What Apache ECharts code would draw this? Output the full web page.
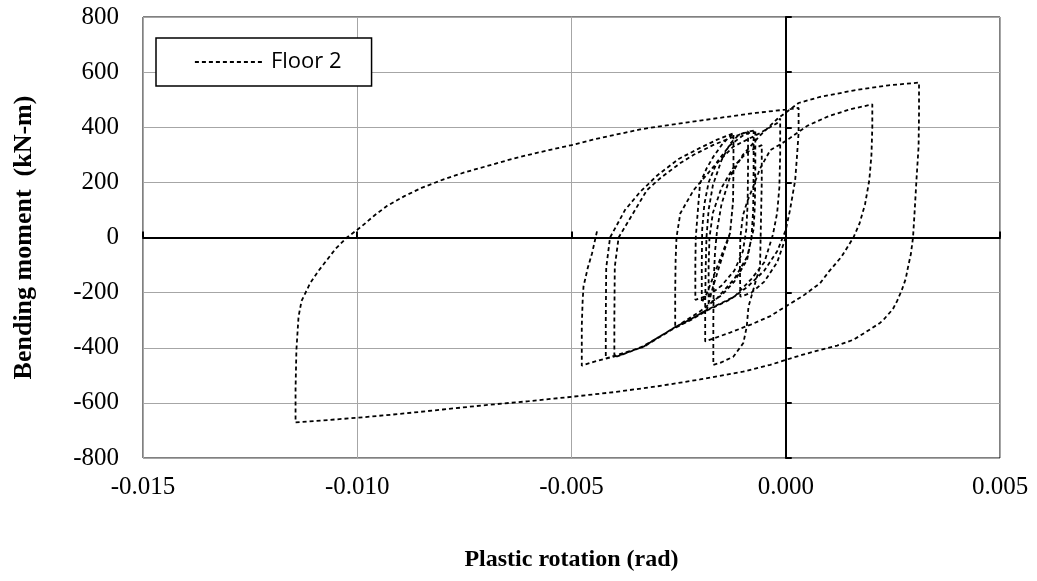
<!DOCTYPE html>
<html>
<head>
<meta charset="utf-8">
<script src="https://cdn.jsdelivr.net/npm/echarts@6/dist/echarts.min.js"></script>
<style>
html,body{margin:0;padding:0;background:#fff;}
#chart{width:1037px;height:581px;}
</style>
</head>
<body>
<div id="chart"></div>
<script>
// ---- data (plastic rotation [rad], bending moment [kN-m]) ----
var seriesName = 'Floor 2';
var xTicks = [-0.015, -0.010, -0.005, 0.000, 0.005];
var yTicks = [-800, -600, -400, -200, 0, 200, 400, 600, 800];

var branch01 = [[0,0],[-0.0002,-90],[-0.0005,-160],[-0.0008,-200],[-0.00106,-215]];
var branch02 = [[-0.00106,-215],[-0.00107,-100],[-0.00106,0],[-0.001,80],[-0.0009,130],[-0.00079,172],[-0.0006,250],[-0.00036,317],[0,350],[0.0005,405],[0.001,440],[0.0015,465],[0.00202,483]];
var branch03 = [[0.00202,483],[0.00202,400],[0.002,300],[0.00195,208],[0.00185,120],[0.00172,50],[0.00158,0],[0.0013,-70],[0.001,-125],[0.0008,-166],[0.0004,-212],[0,-250],[-0.00036,-285],[-0.0008,-315],[-0.0013,-345],[-0.00188,-377]];
var branch04 = [[-0.00188,-377],[-0.00188,-250],[-0.00187,-120],[-0.00185,0],[-0.0018,100],[-0.0017,190],[-0.0015,280],[-0.0013,340],[-0.0011,372],[-0.00088,385]];
var branch05 = [[-0.00088,385],[-0.00088,250],[-0.00089,120],[-0.00092,30],[-0.001,-50],[-0.0012,-120],[-0.0015,-175],[-0.0018,-210],[-0.00211,-226]];
var branch06 = [[-0.00211,-226],[-0.00211,-100],[-0.0021,0],[-0.00208,40],[-0.00204,120],[-0.002,196],[-0.00185,250],[-0.00169,293],[-0.0015,335],[-0.00135,360],[-0.00122,378]];
var branch07 = [[-0.00122,378],[-0.00122,250],[-0.00123,130],[-0.0013,16],[-0.0016,-106],[-0.00184,-202],[-0.00196,-236]];
var branch08 = [[-0.00196,-236],[-0.00196,-100],[-0.00195,30],[-0.0019,120],[-0.0018,200],[-0.0016,275],[-0.0013,335],[-0.001,370],[-0.00075,386]];
var branch09 = [[-0.00075,386],[-0.00075,250],[-0.00076,100],[-0.0008,0],[-0.0009,-80],[-0.0012,-160],[-0.0015,-210],[-0.0018,-240]];
var branch10 = [[-0.0018,-240],[-0.0018,-100],[-0.00178,0],[-0.0017,90],[-0.0015,180],[-0.0012,260],[-0.0009,310],[-0.00056,335]];
var branch11 = [[-0.00056,335],[-0.00056,200],[-0.00058,50],[-0.0006,-106],[-0.00067,-142],[-0.00087,-251],[-0.00091,-323],[-0.00099,-383],[-0.00122,-432],[-0.00153,-455],[-0.00169,-462]];
var branch12 = [[-0.00169,-462],[-0.00169,-300],[-0.00168,-150],[-0.00165,-50],[-0.0016,30],[-0.0015,120],[-0.0013,220],[-0.001,300],[-0.0006,370],[-0.0002,430],[0.0003,488],[0.0008,510],[0.0016,534],[0.0024,552],[0.00311,562]];
var branch13 = [[0.00311,562],[0.00311,450],[0.0031,330],[0.00305,208],[0.00301,100],[0.00297,0],[0.00292,-60],[0.00285,-110],[0.0028,-150],[0.00271,-190],[0.0026,-230],[0.0025,-260],[0.0023,-295],[0.0022,-310],[0.002,-330],[0.00185,-345],[0.00158,-371],[0.0012,-392],[0.0008,-408],[0.0004,-425],[0,-444],[-0.00036,-462],[-0.001,-487],[-0.002,-515],[-0.003,-540],[-0.004,-561],[-0.005,-578],[-0.006,-594],[-0.007,-608],[-0.008,-624],[-0.009,-640],[-0.01,-654],[-0.011,-666],[-0.01144,-671]];
var branch14 = [[-0.01144,-671],[-0.01144,-550],[-0.01142,-408],[-0.01137,-287],[-0.0113,-230],[-0.0111,-166],[-0.0109,-120],[-0.01071,-82],[-0.0105,-40],[-0.01024,0],[-0.0099,40],[-0.0096,80],[-0.0093,115],[-0.0089,150],[-0.0085,180],[-0.008,210],[-0.0075,236],[-0.007,258],[-0.0065,280],[-0.006,300],[-0.0055,318],[-0.005,335],[-0.0045,355],[-0.004,372],[-0.0034,392],[-0.003,402],[-0.00246,414],[-0.002,424],[-0.0015,435],[-0.0007,452],[0,464],[0.0003,470]];
var branch15 = [[0.0003,470],[0.0003,380],[0.00026,290],[0.00022,208],[0.0001,100],[0,27],[-0.0002,-50],[-0.0005,-120],[-0.0009,-180],[-0.0013,-225],[-0.00184,-265],[-0.0022,-298],[-0.00258,-328]];
var branch16 = [[-0.00258,-328],[-0.00258,-200],[-0.00257,-80],[-0.00255,0],[-0.00246,88],[-0.00215,172],[-0.00169,256],[-0.00123,329],[-0.0006,379],[-0.0002,415],[-0.00013,432]];
var branch17 = [[-0.00013,432],[-0.00013,300],[-0.00015,180],[-0.0002,90],[-0.0003,10],[-0.0005,-90],[-0.0008,-150],[-0.0012,-215],[-0.00184,-263],[-0.0022,-295],[-0.00258,-325],[-0.003,-365],[-0.00332,-396],[-0.0037,-418],[-0.004,-435]];
var branch18 = [[-0.004,-435],[-0.004,-300],[-0.00399,-106],[-0.0039,0],[-0.00347,112],[-0.00324,172],[-0.00293,215],[-0.00246,270],[-0.00215,300],[-0.0017,335],[-0.00123,365],[-0.00085,385],[-0.00071,389]];
var branch19 = [[-0.00071,389],[-0.00071,250],[-0.00072,120],[-0.00075,30],[-0.0009,-70],[-0.0012,-150],[-0.0016,-220],[-0.002,-268],[-0.00258,-326],[-0.00332,-394],[-0.0038,-423],[-0.0042,-440]];
var branch20 = [[-0.0042,-440],[-0.0042,-300],[-0.00419,-110],[-0.0041,0],[-0.00375,100],[-0.0034,165],[-0.003,225],[-0.0025,285],[-0.002,325],[-0.0016,355],[-0.00122,378]];
var branch21 = [[-0.00122,378],[-0.00122,250],[-0.00123,130],[-0.0013,16],[-0.0015,-80],[-0.0017,-180],[-0.00184,-262],[-0.0022,-296],[-0.00258,-327],[-0.00332,-397],[-0.00418,-438],[-0.0045,-452],[-0.00476,-465]];
var branch22 = [[-0.00476,-465],[-0.00476,-320],[-0.00474,-230],[-0.00472,-178],[-0.00462,-110],[-0.00452,-57],[-0.00439,33]];

var branches = [branch01,branch02,branch03,branch04,branch05,branch06,branch07,branch08,branch09,branch10,branch11,
  branch12,branch13,branch14,branch15,branch16,branch17,branch18,branch19,branch20,branch21,branch22];
var path = [];
branches.forEach(function (b, i) { (i === 0 ? b : b.slice(1)).forEach(function (p) { path.push(p); }); });

var serif = 'Liberation Serif';
var chart = echarts.init(document.getElementById('chart'), null, {renderer: 'canvas'});
chart.setOption({
  animation: false,
  backgroundColor: '#ffffff',
  grid: {
    left: 143, top: 17, right: 37, bottom: 123,
    show: true, borderColor: '#000000', borderWidth: 1, backgroundColor: 'transparent',
    containLabel: false, outerBoundsMode: 'none'
  },
  legend: {
    show: true,
    data: [seriesName],
    left: 156, top: 38,
    padding: [13, 30, 13, 38],
    borderColor: '#000000', borderWidth: 1.5,
    backgroundColor: '#ffffff',
    itemWidth: 67, itemHeight: 14,
    itemStyle: {opacity: 0},
    lineStyle: {color: '#000000', width: 1.8, type: [4, 3]},
    textStyle: {fontFamily: 'Open Sans', fontSize: 22, color: '#000000', padding: [0, 0, 0, 4]}
  },
  xAxis: [{
    type: 'value', min: xTicks[0], max: xTicks[xTicks.length - 1], interval: 0.005,
    position: 'bottom',
    axisLine: {show: false, onZero: false},
    axisTick: {show: false},
    splitLine: {show: true, lineStyle: {color: '#a6a6a6', width: 1}},
    axisLabel: {
      margin: 17, color: '#000000', fontFamily: serif, fontSize: 25,
      formatter: function (v) { return v.toFixed(3); }
    },
    name: 'Plastic rotation (rad)', nameLocation: 'middle', nameGap: 90,
    nameTextStyle: {fontFamily: serif, fontWeight: 'bold', fontSize: 24, color: '#000000'}
  }, {
    type: 'value', min: xTicks[0], max: xTicks[xTicks.length - 1], interval: 0.005,
    position: 'bottom',
    axisLine: {show: true, onZero: true, onZeroAxisIndex: 0, lineStyle: {color: '#000000', width: 2}},
    axisTick: {show: true, inside: true, length: 6, lineStyle: {color: '#000000', width: 2}},
    axisLabel: {show: false},
    splitLine: {show: false}
  }],
  yAxis: [{
    type: 'value', min: yTicks[0], max: yTicks[yTicks.length - 1], interval: 200,
    position: 'left',
    axisLine: {show: false, onZero: false},
    axisTick: {show: false},
    splitLine: {show: true, lineStyle: {color: '#a6a6a6', width: 1}},
    axisLabel: {margin: 24, color: '#000000', fontFamily: serif, fontSize: 25},
    name: 'Bending moment  (kN-m)', nameLocation: 'middle', nameGap: 106,
    nameTextStyle: {fontFamily: serif, fontWeight: 'bold', fontSize: 26, color: '#000000'}
  }, {
    type: 'value', min: yTicks[0], max: yTicks[yTicks.length - 1], interval: 200,
    position: 'left',
    axisLine: {show: true, onZero: true, onZeroAxisIndex: 0, lineStyle: {color: '#000000', width: 2}},
    axisTick: {show: true, inside: true, length: 6, lineStyle: {color: '#000000', width: 2}},
    axisLabel: {show: false},
    splitLine: {show: false}
  }],
  series: [{
    name: seriesName,
    type: 'line',
    xAxisIndex: 0, yAxisIndex: 0,
    data: path,
    showSymbol: false, symbol: 'none',
    smooth: false,
    lineStyle: {color: '#000000', width: 1.8, type: [4, 3]},
    itemStyle: {color: '#000000'},
    z: 3
  }]
});
</script>
</body>
</html>
